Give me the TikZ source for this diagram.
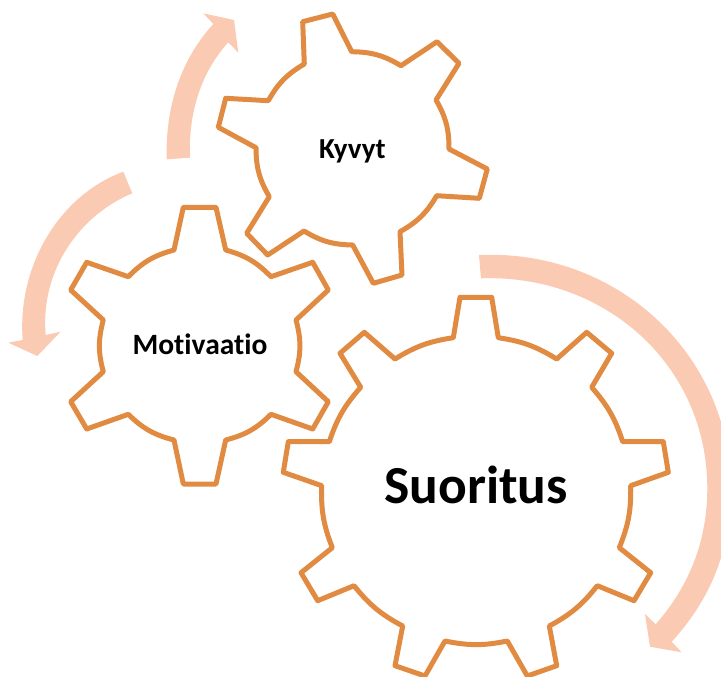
\documentclass[tikz,border=0pt]{standalone}
\usepackage{fontspec}
\setmainfont{Carlito}[Ligatures=NoCommon]
\definecolor{gearline}{HTML}{E08B41}
\definecolor{peach}{HTML}{FBCAB2}
\tikzset{
  gear/.style={draw=gearline,line width=5pt,line join=round},
  sweep/.style={fill=peach,draw=none},
  label/.style={font=\bfseries,text=black,inner sep=0pt,anchor=base},
  toothbend/.style={bend right=15}
}
\begin{document}
\begin{tikzpicture}[x=1pt,y=-1pt]
\useasboundingbox (0,0) rectangle (721,677);
\clip (0,0) rectangle (721,677);
% sweeping arrows
\fill[sweep] (166.7,159.3) .. controls (165,100) and (185,55) .. (213.3,24)
  -- (203.3,13.3) -- (234,20) -- (238.3,52.7) -- (228.3,42.3)
  .. controls (203,70) and (188,110) .. (190,157.7) -- cycle;
\fill[sweep] (123.3,171.7) .. controls (60,195) and (17,265) .. (22.7,340)
  -- (8.3,342.7) -- (37.3,356) -- (60.7,331.7) -- (45.7,335)
  .. controls (40,270) and (80,215) .. (132.3,193.3) -- cycle;
\fill[sweep] (479,255) .. controls (618,249) and (731,355) .. (731,490)
  .. controls (731,550) and (710,600) .. (671.7,641.7)
  -- (681.7,652.3) -- (650,646.7) -- (645,614) -- (655.7,624.3)
  .. controls (690,585) and (707.3,540) .. (707.3,488)
  .. controls (707,365) and (605,274) .. (481,278.3) -- cycle;
% Kyvyt gear
\draw[gear] (351.7,51.7) -- (332.7,14) -- (302.7,21.7) -- (304.3,64)
  to[toothbend] (268.3,100.7) -- (225.7,98.3) -- (218.3,127.3) -- (256,147.7)
  to[toothbend] (269.3,196.7) -- (246.7,233.3) -- (267.7,255) -- (304,231)
  to[toothbend] (352.7,245) -- (373.3,283.3) -- (402,275) -- (400,231.7)
  to[toothbend] (436.7,195.7) -- (479.3,198.3) -- (487.3,169) -- (449,149)
  to[toothbend] (436,100) -- (459,63.3) -- (437,41.7) -- (401,65.7)
  to[toothbend] cycle;
% Motivaatio gear
\draw[gear] (174,250) -- (183.3,207.3) -- (216,207.3) -- (225.7,250)
  to[bend left=15] (271,276.7) -- (312.7,262.3) -- (328.3,290) -- (296,320)
  to[bend left=15] (296,371.7) -- (328.3,401.7) -- (312.7,429) -- (271,414.3)
  to[bend left=15] (225.7,440) -- (216,484) -- (183.3,484) -- (174,440)
  to[bend left=15] (128.3,414.3) -- (86.7,429) -- (70.7,401.7) -- (103.3,371.7)
  to[bend left=15] (103.3,320) -- (70.7,290) -- (86.7,262.3) -- (128.3,276.7)
  to[bend left=15] cycle;
% Suoritus gear
\draw[gear] (453.3,337.7) -- (460,297.3) -- (491.7,297.3) -- (498.3,337.7)
  to[bend left=11.5] (556.7,359) -- (586.7,332.3) -- (611.7,353.3) -- (591.7,387.3)
  to[bend left=11.5] (622.7,441.7) -- (663.3,441.7) -- (668.3,472.3) -- (630.7,485.7)
  to[bend left=11.5] (619.3,547.7) -- (650.7,572.7) -- (634,600.7) -- (597.3,585.7)
  to[bend left=11.5] (549.3,626) -- (556.7,665.7) -- (527.3,676) -- (507.3,641)
  to[bend left=11.5] (445,641) -- (425,676) -- (395,665.7) -- (402.7,626)
  to[bend left=11.5] (354,585.7) -- (317.7,600.7) -- (301,572.7) -- (332.3,547.7)
  to[bend left=11.5] (321.7,485.7) -- (283.3,472.3) -- (288.3,441.7) -- (329.3,441.7)
  to[bend left=11.5] (360.7,387.3) -- (340,353.3) -- (364.3,332.3) -- (395,359)
  to[bend left=11.5] cycle;
% labels
\node[label,font=\bfseries\fontsize{29}{35}\selectfont] (kyvyt) at (352.5,158.5) {Kyvyt};
\node[label,font=\bfseries\fontsize{29.5}{35}\selectfont] (motivaatio) at (200,354.5) {Motivaatio};
\node[label,font=\bfseries\fontsize{53.5}{64}\selectfont] (suoritus) at (476,503.5) {Suoritus};
\end{tikzpicture}
\end{document}
